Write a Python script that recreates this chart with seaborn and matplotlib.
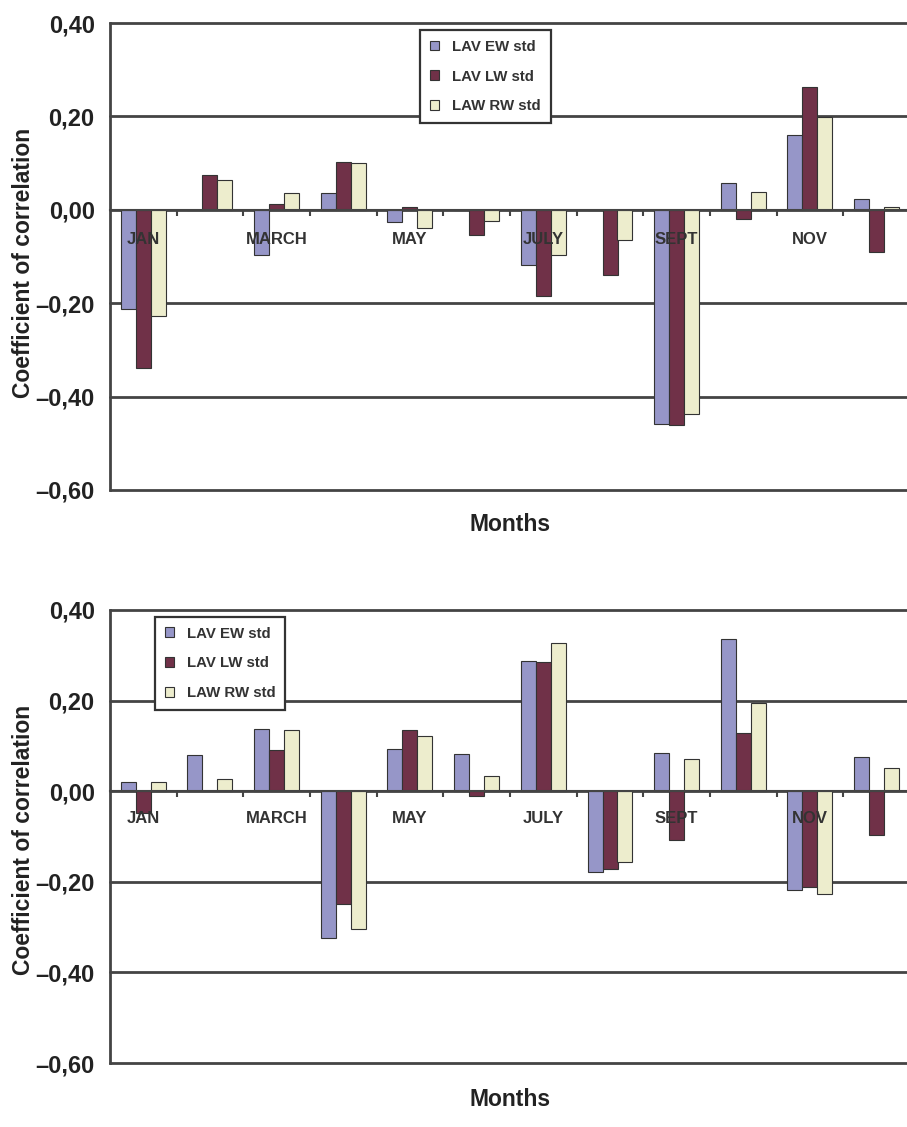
import matplotlib
matplotlib.use("Agg")
import matplotlib.pyplot as plt
import seaborn as sns
import pandas as pd

# Months (one group of bars each) and the labels written under every other group
months = ["JAN", "FEB", "MARCH", "APRIL", "MAY", "JUNE",
          "JULY", "AUG", "SEPT", "OCT", "NOV", "DEC"]
shown_months = ["JAN", "MARCH", "MAY", "JULY", "SEPT", "NOV"]
series = ["LAV EW std", "LAV LW std", "LAW RW std"]

# Upper panel: correlation coefficients per month
top_ew = [-0.212, 0.000, -0.096, 0.036, -0.027, 0.000, -0.118, 0.000, -0.458, 0.058, 0.160, 0.023]
top_lw = [-0.339, 0.075, 0.013, 0.102, 0.006, -0.055, -0.185, -0.140, -0.461, -0.019, 0.262, -0.091]
top_rw = [-0.227, 0.064, 0.036, 0.100, -0.039, -0.025, -0.096, -0.064, -0.437, 0.038, 0.198, 0.005]

# Lower panel: correlation coefficients per month
bot_ew = [0.020, 0.079, 0.138, -0.325, 0.094, 0.082, 0.288, -0.178, 0.085, 0.337, -0.217, 0.076]
bot_lw = [-0.048, 0.000, 0.092, -0.248, 0.135, -0.011, 0.285, -0.171, -0.107, 0.129, -0.212, -0.096]
bot_rw = [0.020, 0.028, 0.136, -0.304, 0.121, 0.033, 0.327, -0.157, 0.071, 0.195, -0.226, 0.051]

y_ticks = [-0.60, -0.40, -0.20, 0.00, 0.20, 0.40]

sns.set_theme(style="white")
plt.rcParams["font.family"] = ["Liberation Sans", "DejaVu Sans"]

palette = {"LAV EW std": "#8e8ed0", "LAV LW std": "#7a2646", "LAW RW std": "#f2f2c8"}
grid_col = "#444444"
text_col = "#222222"


def long_frame(ew, lw, rw):
    rows = []
    for name, vals in zip(series, (ew, lw, rw)):
        for m, v in zip(months, vals):
            rows.append({"month": m, "series": name, "r": v})
    return pd.DataFrame(rows)


def fmt_tick(v):
    s = f"{abs(v):.2f}".replace(".", ",")
    return ("\u2013" + s) if v < 0 else s


def draw_panel(ax, df, legend_anchor, label_y, ylabel_y, xlabel_y):
    sns.barplot(data=df, x="month", y="r", hue="series", order=months,
                hue_order=series, palette=palette, width=0.675, gap=0,
                edgecolor="#333333", linewidth=0.8, errorbar=None,
                ax=ax, zorder=2)
    ax.set_xlim(-0.5, len(months) - 0.5)
    ax.set_ylim(-0.60, 0.40)

    # horizontal rules at each tick level, frame edges included
    for yv in y_ticks:
        ax.axhline(yv, color=grid_col, lw=2.0, zorder=0.5, clip_on=False)

    ax.set_yticks(y_ticks)
    ax.set_yticklabels([fmt_tick(v) for v in y_ticks], fontsize=17,
                       fontweight="bold", color=text_col)
    ax.tick_params(axis="y", length=0, pad=11)

    # zero line carries short ticks between month groups
    ax.spines["bottom"].set_position(("data", 0))
    ax.spines["bottom"].set_color(grid_col)
    ax.spines["bottom"].set_linewidth(1.5)
    ax.spines["left"].set_color(grid_col)
    ax.spines["left"].set_linewidth(2.0)
    ax.spines["top"].set_visible(False)
    ax.spines["right"].set_visible(False)
    ax.set_xticks([i + 0.5 for i in range(len(months) - 1)])
    ax.set_xticklabels([])
    ax.tick_params(axis="x", direction="out", length=4, width=1.5,
                   color=grid_col, bottom=True)

    for m in shown_months:
        ax.text(months.index(m), label_y, m, ha="center", va="center",
                fontsize=12, fontweight="bold", color="#333333", zorder=5)

    ax.set_ylabel("Coefficient of correlation", fontsize=16.5,
                  fontweight="bold", color=text_col)
    ax.yaxis.label.set_va("center")
    ax.yaxis.set_label_coords(-0.108, ylabel_y)
    ax.set_xlabel("Months", fontsize=16.5, fontweight="bold", color=text_col)
    ax.xaxis.label.set_va("center")
    ax.xaxis.set_label_coords(0.5, xlabel_y)

    handles, labels = ax.get_legend_handles_labels()
    leg = ax.legend(handles, labels, loc="upper left",
                    bbox_to_anchor=legend_anchor, borderaxespad=0,
                    frameon=True, fancybox=False, framealpha=1,
                    edgecolor="#333333",
                    prop={"weight": "bold", "size": 10.8},
                    handlelength=0.6, handleheight=0.6, handletextpad=0.9,
                    labelspacing=1.05, borderpad=0.65)
    leg.get_frame().set_linewidth(1.6)
    for t in leg.get_texts():
        t.set_color("#333333")


fig = plt.figure(figsize=(9.07, 11.27), dpi=100)
fig.patch.set_facecolor("white")

ax_top = fig.add_axes([110 / 907, 1 - 490 / 1127, 800 / 907, 467 / 1127])
ax_bot = fig.add_axes([110 / 907, 1 - 1063 / 1127, 800 / 907, 453 / 1127])

draw_panel(ax_top, long_frame(top_ew, top_lw, top_rw),
           legend_anchor=(0.3875, 0.985), label_y=-0.064,
           ylabel_y=0.486, xlabel_y=-0.073)
draw_panel(ax_bot, long_frame(bot_ew, bot_lw, bot_rw),
           legend_anchor=(0.056, 0.985), label_y=-0.061,
           ylabel_y=0.492, xlabel_y=-0.081)

fig.savefig("out.png", dpi=100, facecolor="white")
